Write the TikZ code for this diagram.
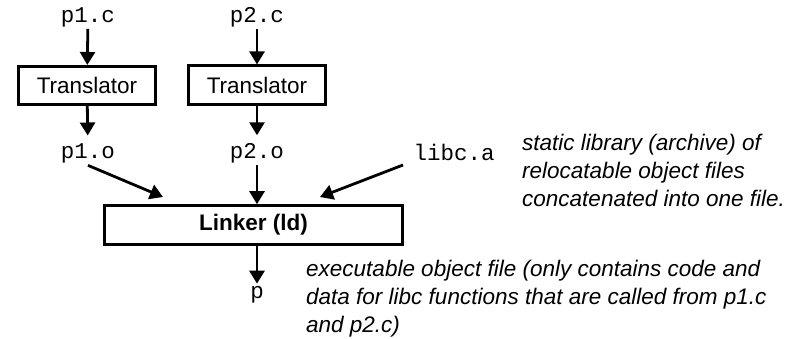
\documentclass[tikz,border=0pt]{standalone}
\usepackage{fontspec}
\setmainfont{Liberation Sans}
\setmonofont{Liberation Mono}
\usetikzlibrary{arrows.meta}
\begin{document}
\begin{tikzpicture}[x=1pt,y=-1pt,
  every node/.style={font=\fontsize{22.5}{28}\selectfont},
  code/.style={font=\fontsize{22.5}{28}\ttfamily, inner sep=2pt, anchor=base},
  proc/.style={draw, line width=2.6pt, minimum width=137pt, minimum height=38.5pt, inner sep=0pt},
  note/.style={font=\fontsize{22.5}{28}\selectfont\itshape, align=left, inner sep=0pt, anchor=base west},
  arr/.style={line width=2.8pt, -{Triangle[length=13pt,width=15pt]}}
]
\useasboundingbox (0,0) rectangle (802,338);

\node[code] (p1c) at (88,22) {p1.c};
\node[code] (p2c) at (257,22) {p2.c};
\node[proc] (t1) at (87,85.5) {Translator};
\node[proc] (t2) at (257,85) {Translator};
\node[code] (p1o) at (88,158.5) {p1.o};
\node[code] (p2o) at (257,158.5) {p2.o};
\node[code] (libc) at (454,160) {libc.a};
\node[proc, minimum width=298pt, minimum height=39pt] (ld) at (253.5,225) {\bfseries Linker (ld)};
\node[code] (p) at (257,298) {p};

\node[note] (lib) at (522,206) {static library (archive) of\\relocatable object files\\concatenated into one file.};
\node[note] (exe) at (306,332) {executable object file (only contains code and\\data for libc functions that are called from p1.c\\and p2.c)};

\coordinate (a1) at (163,197);
\coordinate (a3) at (320,197);
\coordinate (s3) at (403,165);

\draw[arr] (p1c) -- (t1);
\draw[arr] (p2c) -- (t2);
\draw[arr, shorten >=6pt] (t1) -- (p1o);
\draw[arr, shorten >=6pt] (t2) -- (p2o);
\draw[arr] (p1o.south) -- (a1);
\draw[arr] (p2o.south) -- (p2o.south |- ld.north);
\draw[arr] (s3) -- (a3);
\draw[arr] (ld.south -| p) -- (p.north);
\end{tikzpicture}
\end{document}
